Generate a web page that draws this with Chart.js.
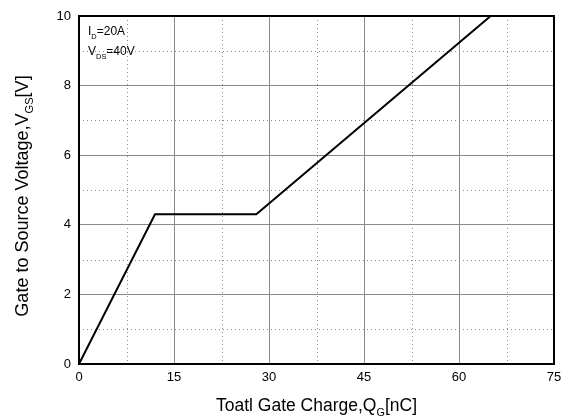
<!DOCTYPE html>
<html>
<head>
<meta charset="utf-8">
<script src="https://cdn.jsdelivr.net/npm/chart.js@4"></script>
<style>
  html, body { margin: 0; padding: 0; background: #fff; }
  #wrap { width: 570px; height: 417px; }
</style>
</head>
<body>
<div id="wrap"><canvas id="gateChart" width="570" height="417"></canvas></div>
<script>
// gate charge curve, QG [nC] vs VGS [V]
const chargeQG = [0, 12, 28, 65];
const voltageVGS = [0, 4.3, 4.3, 10];

const xTicks = [0, 15, 30, 45, 60, 75];
const yTicks = [0, 2, 4, 6, 8, 10];
const xMinor = [7.5, 22.5, 37.5, 52.5, 67.5];
const yMinor = [1, 3, 5, 7, 9];

const FONT = 'Arial, "Liberation Sans", sans-serif';

// text with a subscript part: [[text, isSub], ...]
function drawRich(ctx, parts, x, y, size, align) {
  let total = 0;
  parts.forEach(([t, sub]) => {
    ctx.font = (sub ? size * 0.62 : size) + 'px ' + FONT;
    total += ctx.measureText(t).width;
  });
  let cx = align === 'center' ? x - total / 2 : x;
  parts.forEach(([t, sub]) => {
    ctx.font = (sub ? size * 0.62 : size) + 'px ' + FONT;
    ctx.fillText(t, cx, sub ? y + size * 0.3 : y);
    cx += ctx.measureText(t).width;
  });
}

const decorPlugin = {
  id: 'decor',
  beforeDatasetsDraw(chart) {
    const { ctx, chartArea: a, scales } = chart;
    ctx.save();
    ctx.strokeStyle = '#8a8a8a';
    ctx.lineWidth = 1;
    ctx.setLineDash([1, 3]);
    xMinor.forEach(v => {
      const px = Math.round(scales.x.getPixelForValue(v)) + 0.5;
      ctx.beginPath();
      ctx.moveTo(px, a.top);
      ctx.lineTo(px, a.bottom);
      ctx.stroke();
    });
    yMinor.forEach(v => {
      const py = Math.round(scales.y.getPixelForValue(v)) + 0.5;
      ctx.beginPath();
      ctx.moveTo(a.left, py);
      ctx.lineTo(a.right, py);
      ctx.stroke();
    });
    ctx.restore();
  },
  afterDraw(chart) {
    const { ctx, chartArea: a } = chart;
    ctx.save();
    ctx.strokeStyle = '#000';
    ctx.lineWidth = 2;
    ctx.strokeRect(a.left, a.top, a.right - a.left, a.bottom - a.top);

    ctx.fillStyle = '#000';
    ctx.textBaseline = 'alphabetic';
    drawRich(ctx, [['I', false], ['D', true], ['=20A', false]], a.left + 9, a.top + 19, 12, 'left');
    drawRich(ctx, [['V', false], ['DS', true], ['=40V', false]], a.left + 9, a.top + 39, 12, 'left');

    // axis titles
    drawRich(ctx, [['Toatl Gate Charge,Q', false], ['G', true], ['[nC]', false]],
      (a.left + a.right) / 2, 411, 17.5, 'center');
    ctx.translate(28, 196);
    ctx.rotate(-Math.PI / 2);
    drawRich(ctx, [['Gate to Source Voltage,V', false], ['GS', true], ['[V]', false]],
      0, 0, 18, 'center');
    ctx.restore();
  }
};

new Chart(document.getElementById('gateChart'), {
  type: 'line',
  data: {
    datasets: [{
      data: chargeQG.map((q, i) => ({ x: q, y: voltageVGS[i] })),
      borderColor: '#000',
      borderWidth: 2,
      pointRadius: 0,
      tension: 0,
      fill: false
    }]
  },
  options: {
    responsive: false,
    animation: false,
    layout: { padding: { top: 16, right: 16, left: 0, bottom: 0 } },
    plugins: { legend: { display: false }, tooltip: { enabled: false } },
    scales: {
      x: {
        type: 'linear',
        min: 0, max: 75,
        afterFit: s => { s.height = 53; },
        afterBuildTicks: s => { s.ticks = xTicks.map(v => ({ value: v })); },
        ticks: { color: '#000', font: { family: FONT, size: 13 }, padding: 6, maxRotation: 0 },
        grid: { color: '#8a8a8a', lineWidth: 1, drawTicks: false },
        border: { display: false }
      },
      y: {
        type: 'linear',
        min: 0, max: 10,
        afterFit: s => { s.width = 79; },
        afterBuildTicks: s => { s.ticks = yTicks.map(v => ({ value: v })); },
        ticks: { color: '#000', font: { family: FONT, size: 13 }, padding: 8 },
        grid: { color: '#8a8a8a', lineWidth: 1, drawTicks: false },
        border: { display: false }
      }
    }
  },
  plugins: [decorPlugin]
});
</script>
</body>
</html>
